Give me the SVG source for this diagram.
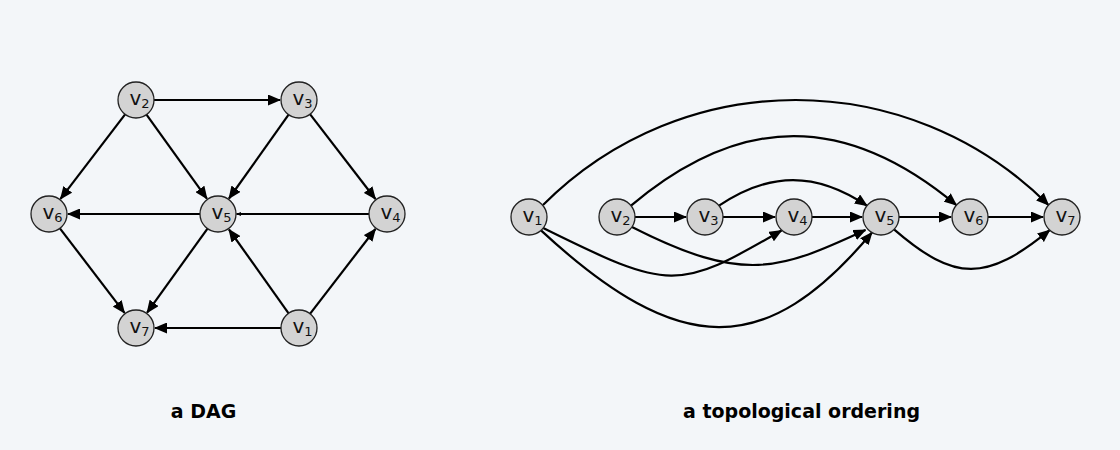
<svg xmlns="http://www.w3.org/2000/svg" width="1120" height="450" viewBox="0 0 1120 450">
<defs>
<style>
.bg{fill:#f3f6f9}
.node circle{fill:#d3d3d3;stroke:#222;stroke-width:1.3}
.lbl{font-family:"DejaVu Sans",sans-serif;font-size:20px;fill:#111}
.sub{font-size:13px}
.edges path{fill:none;stroke:#000;stroke-width:2.2}
.title{font-family:"DejaVu Sans",sans-serif;font-weight:bold;font-size:19px;fill:#000;text-anchor:middle}
</style>
<marker id="ah" markerUnits="userSpaceOnUse" markerWidth="13" markerHeight="11" refX="12" refY="5.5" orient="auto">
<path d="M0,0 L13,5.5 L0,11 z" fill="#000"/>
</marker>
<marker id="ahs" markerUnits="userSpaceOnUse" markerWidth="5" markerHeight="4" refX="4.5" refY="2" orient="auto">
<path d="M0,0 L5,2 L0,4 z" fill="#000"/>
</marker>
</defs>
<rect class="bg" x="0" y="0" width="1120" height="450"/>

<g id="dag-edges" class="edges">
<path d="M154,100 L280,100" marker-end="url(#ah)"/>
<path d="M125.1,114.3 L60.5,198.9" marker-end="url(#ah)"/>
<path d="M146.5,114.6 L206.9,198.6" marker-end="url(#ah)"/>
<path d="M288.6,114.7 L229.0,198.5" marker-end="url(#ah)"/>
<path d="M310.0,114.2 L375.4,199.0" marker-end="url(#ah)"/>
<path d="M369,214 L236.5,214" marker-end="url(#ahs)"/>
<path d="M200,214 L68,214" marker-end="url(#ah)"/>
<path d="M207.5,228.6 L147.1,312.6" marker-end="url(#ah)"/>
<path d="M59.9,228.3 L124.5,312.9" marker-end="url(#ah)"/>
<path d="M288.6,313.3 L229.0,229.5" marker-end="url(#ah)"/>
<path d="M310.0,313.8 L375.4,229.0" marker-end="url(#ah)"/>
<path d="M281,328 L155,328" marker-end="url(#ah)"/>
</g>

<g id="dag-v1" class="node"><circle cx="299" cy="328" r="18"/><text class="lbl" x="292.5" y="332.5">v<tspan class="sub" dy="3">1</tspan></text></g>
<g id="dag-v2" class="node"><circle cx="136" cy="100" r="18"/><text class="lbl" x="129.5" y="104.5">v<tspan class="sub" dy="3">2</tspan></text></g>
<g id="dag-v3" class="node"><circle cx="299" cy="100" r="18"/><text class="lbl" x="292.5" y="104.5">v<tspan class="sub" dy="3">3</tspan></text></g>
<g id="dag-v4" class="node"><circle cx="387" cy="214" r="18"/><text class="lbl" x="380.5" y="218.5">v<tspan class="sub" dy="3">4</tspan></text></g>
<g id="dag-v5" class="node"><circle cx="218" cy="214" r="18"/><text class="lbl" x="211.5" y="218.5">v<tspan class="sub" dy="3">5</tspan></text></g>
<g id="dag-v6" class="node"><circle cx="49" cy="214" r="18"/><text class="lbl" x="42.5" y="218.5">v<tspan class="sub" dy="3">6</tspan></text></g>
<g id="dag-v7" class="node"><circle cx="136" cy="328" r="18"/><text class="lbl" x="129.5" y="332.5">v<tspan class="sub" dy="3">7</tspan></text></g>

<g id="topo-edges" class="edges">
<path d="M635,217 L686,217" marker-end="url(#ah)"/>
<path d="M723,217 L775,217" marker-end="url(#ah)"/>
<path d="M812,217 L862,217" marker-end="url(#ah)"/>
<path d="M899,217 L951,217" marker-end="url(#ah)"/>
<path d="M988,217 L1043,217" marker-end="url(#ah)"/>
<path d="M543,205 C683,65 908,65 1048.5,205" marker-end="url(#ah)"/>
<path d="M631,205.7 C741,113 846,113 956.4,205.1" marker-end="url(#ah)"/>
<path d="M719,205.7 C770,171.5 816,171.5 867,205.7" marker-end="url(#ah)"/>
<path d="M543.2,228.1 C670,291 678,291 781.5,230.5" marker-end="url(#ah)"/>
<path d="M632,227 C744,284 779,270 865.5,230" marker-end="url(#ah)"/>
<path d="M541,230.4 C680,359 766,359 872,232.5" marker-end="url(#ah)"/>
<path d="M894,229.3 C955,282 986,282 1049.7,230.2" marker-end="url(#ah)"/>
</g>

<g id="topo-v1" class="node"><circle cx="529" cy="217" r="18"/><text class="lbl" x="522.5" y="221.5">v<tspan class="sub" dy="3">1</tspan></text></g>
<g id="topo-v2" class="node"><circle cx="617" cy="217" r="18"/><text class="lbl" x="610.5" y="221.5">v<tspan class="sub" dy="3">2</tspan></text></g>
<g id="topo-v3" class="node"><circle cx="705" cy="217" r="18"/><text class="lbl" x="698.5" y="221.5">v<tspan class="sub" dy="3">3</tspan></text></g>
<g id="topo-v4" class="node"><circle cx="794" cy="217" r="18"/><text class="lbl" x="787.5" y="221.5">v<tspan class="sub" dy="3">4</tspan></text></g>
<g id="topo-v5" class="node"><circle cx="881" cy="217" r="18"/><text class="lbl" x="874.5" y="221.5">v<tspan class="sub" dy="3">5</tspan></text></g>
<g id="topo-v6" class="node"><circle cx="970" cy="217" r="18"/><text class="lbl" x="963.5" y="221.5">v<tspan class="sub" dy="3">6</tspan></text></g>
<g id="topo-v7" class="node"><circle cx="1062" cy="217" r="18"/><text class="lbl" x="1055.5" y="221.5">v<tspan class="sub" dy="3">7</tspan></text></g>

<g id="captions">
<text class="title" x="203.5" y="418">a DAG</text>
<text class="title" x="801.5" y="418">a topological ordering</text>
</g>
</svg>
